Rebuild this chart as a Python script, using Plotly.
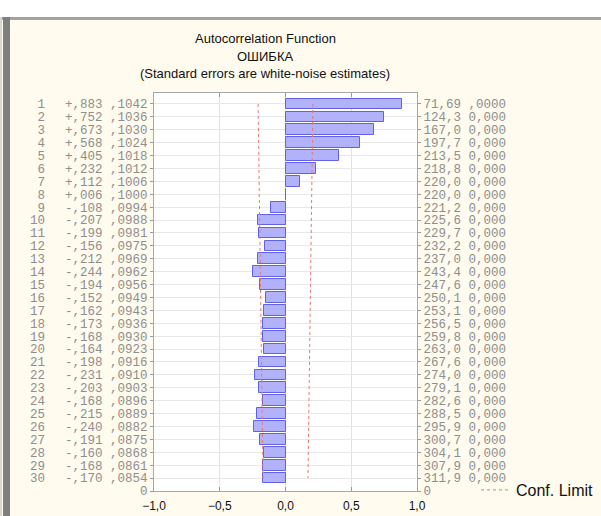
import plotly.graph_objects as go

# Autocorrelation of the residual series (ОШИБКА), lags 1..30
lags = list(range(1, 31))
corr = [0.883, 0.752, 0.673, 0.568, 0.405, 0.232, 0.112, 0.006, -0.108, -0.207,
        -0.199, -0.156, -0.212, -0.244, -0.194, -0.152, -0.162, -0.173, -0.168, -0.164,
        -0.198, -0.231, -0.203, -0.168, -0.215, -0.240, -0.191, -0.160, -0.168, -0.170]
se = [0.1042, 0.1036, 0.1030, 0.1024, 0.1018, 0.1012, 0.1006, 0.1000, 0.0994, 0.0988,
      0.0981, 0.0975, 0.0969, 0.0962, 0.0956, 0.0949, 0.0943, 0.0936, 0.0930, 0.0923,
      0.0916, 0.0910, 0.0903, 0.0896, 0.0889, 0.0882, 0.0875, 0.0868, 0.0861, 0.0854]
q_stat = [71.69, 124.3, 167.0, 197.7, 213.5, 218.8, 220.0, 220.0, 221.2, 225.6,
          229.7, 232.2, 237.0, 243.4, 247.6, 250.1, 253.1, 256.5, 259.8, 263.0,
          267.6, 274.0, 279.1, 282.6, 288.5, 295.9, 300.7, 304.1, 307.9, 311.9]
p_text = [",0000", "0,000", "0,000", "0,000", "0,000", "0,000", "0,000", "0,000", "0,000", "0,000",
          "0,000", "0,000", "0,000", "0,000", "0,000", "0,000", "0,000", "0,000", "0,000", "0,000",
          "0,000", "0,000", "0,000", "0,000", "0,000", "0,000", "0,000", "0,000", "0,000", "0,000"]
x_ticks = [-1.0, -0.5, 0.0, 0.5, 1.0]

W, H = 601, 516
ML, MR, MT, MB = 154, 184, 93, 25
PW, PH = W - ML - MR, H - MT - MB

def px(x):   # pixel column -> paper x
    return (x - ML) / PW

def py(y):   # pixel row -> paper y
    return (H - MB - y) / PH

CREAM = "#fffbee"
GREY_TXT = "#8e8e8e"
MONO = "Liberation Mono, Courier New, monospace"
SANS = "Liberation Sans, Arial, sans-serif"
MONO_SIZE = 12.5
col_font = dict(family=MONO, size=MONO_SIZE, color=GREY_TXT)


def corr_label(c):
    return ("+" if c >= 0 else "-") + "," + f"{abs(c) * 1000:03.0f}"


def se_label(s):
    return "," + f"{s * 10000:04.0f}"


def q_label(v):
    return (f"{v:.2f}" if v < 100 else f"{v:.1f}").replace(".", ",")


left_text = [f"{corr_label(c)} {se_label(s)}" for c, s in zip(corr, se)]
right_text = [f"{q_label(v)} {p}" for v, p in zip(q_stat, p_text)]
n = len(lags)
bottom = n + 1
y_range = [bottom, 0.15]

upper = [2 * s for s in se]
lower = [-2 * s for s in se]

fig = go.Figure()

fig.add_trace(go.Bar(
    x=corr, y=lags, orientation="h", width=0.83,
    marker=dict(color="rgb(178,178,250)", line=dict(color="rgb(96,96,232)", width=1)),
    showlegend=False, hoverinfo="skip",
))
fig.add_trace(go.Scatter(
    x=lower, y=lags, mode="lines",
    line=dict(color="#e07a7a", width=1, dash="dot"),
    showlegend=False, hoverinfo="skip",
))
fig.add_trace(go.Scatter(
    x=upper, y=lags, mode="lines", name="Conf. Limit",
    line=dict(color="#e07a7a", width=1, dash="dot"),
    showlegend=True, hoverinfo="skip",
))
# invisible traces carrying the extra axes (Q/p column on the right, lag column far left)
fig.add_trace(go.Scatter(x=[None], y=[None], yaxis="y2", showlegend=False, hoverinfo="skip"))
fig.add_trace(go.Scatter(x=[None], y=[None], yaxis="y3", showlegend=False, hoverinfo="skip"))

fig.update_layout(
    width=W, height=H,
    margin=dict(l=ML, r=MR, t=MT, b=MB, pad=0, autoexpand=False),
    paper_bgcolor=CREAM, plot_bgcolor="white",
    separators=", ",
    bargap=0,
    xaxis=dict(
        range=[-1.0, 1.0], tickvals=x_ticks, tickformat=".1f",
        showgrid=True, gridcolor="#e2e2e2", gridwidth=1, zeroline=False,
        ticks="inside", ticklen=4, tickcolor="#9a9a9a",
        showline=True, linecolor="#a8a8a8", linewidth=1, mirror="ticks",
        tickfont=dict(family=SANS, size=12, color="#111"),
        ticklabelstandoff=4,
    ),
    yaxis=dict(
        range=y_range, tickvals=lags + [bottom], ticktext=left_text + ["0"],
        showgrid=True, gridcolor="#e8e8e8", gridwidth=1, zeroline=False,
        ticks="outside", ticklen=3, tickcolor="#9a9a9a",
        showline=True, linecolor="#a8a8a8", linewidth=1,
        tickfont=col_font,
    ),
    yaxis2=dict(
        overlaying="y", side="right", range=y_range,
        tickvals=lags + [bottom], ticktext=right_text + ["0"],
        showgrid=False, zeroline=False,
        ticks="outside", ticklen=3, tickcolor="#9a9a9a",
        showline=True, linecolor="#a8a8a8", linewidth=1,
        tickfont=col_font,
    ),
    yaxis3=dict(
        overlaying="y", side="left", range=y_range,
        tickvals=lags, ticktext=[str(v) for v in lags],
        showgrid=False, zeroline=False, showline=False, ticks="",
        ticklabelstandoff=108,
        tickfont=col_font,
    ),
    legend=dict(
        x=px(476), y=py(490), xanchor="left", yanchor="middle",
        bgcolor="rgba(0,0,0,0)", borderwidth=0,
        font=dict(family=SANS, size=16, color="#111"),
    ),
)

# window frame around the chart
fig.add_shape(type="rect", xref="paper", yref="paper", layer="below",
              x0=px(-5), x1=px(W + 5), y0=py(17), y1=py(-5),
              fillcolor="white", line_width=0)
fig.add_shape(type="rect", xref="paper", yref="paper",
              x0=px(0), x1=px(W + 5), y0=py(20), y1=py(17),
              fillcolor="#a3a39b", line_width=0)
fig.add_shape(type="rect", xref="paper", yref="paper",
              x0=px(0), x1=px(2), y0=py(H + 5), y1=py(17),
              fillcolor="#d8d8d0", line_width=0)
fig.add_shape(type="rect", xref="paper", yref="paper",
              x0=px(3), x1=px(10), y0=py(H + 5), y1=py(17),
              fillcolor="#7f7f7f", line_width=0)

# titles
for text, ypix in [("Autocorrelation Function", 38),
                   ("ОШИБКА", 56),
                   ("(Standard errors are white-noise estimates)", 74)]:
    fig.add_annotation(text=text, xref="paper", yref="paper", x=px(265), y=py(ypix),
                       xanchor="center", yanchor="middle", showarrow=False,
                       font=dict(family=SANS, size=13, color="#111"))

# column headers
fig.add_annotation(text="Lag", xref="paper", yref="y", x=px(37), y=0,
                   xanchor="center", yanchor="middle", showarrow=False,
                   borderpad=0, font=col_font)
fig.add_annotation(text="Corr. S.E.", xref="paper", yref="y", x=px(148), y=0,
                   xanchor="right", yanchor="middle", showarrow=False,
                   borderpad=0, font=col_font)
fig.add_annotation(text="   Q  p", xref="paper", yref="y", x=px(419), y=0,
                   xanchor="left", yanchor="middle", showarrow=False,
                   borderpad=0, font=col_font)

fig.write_html("out.html")
